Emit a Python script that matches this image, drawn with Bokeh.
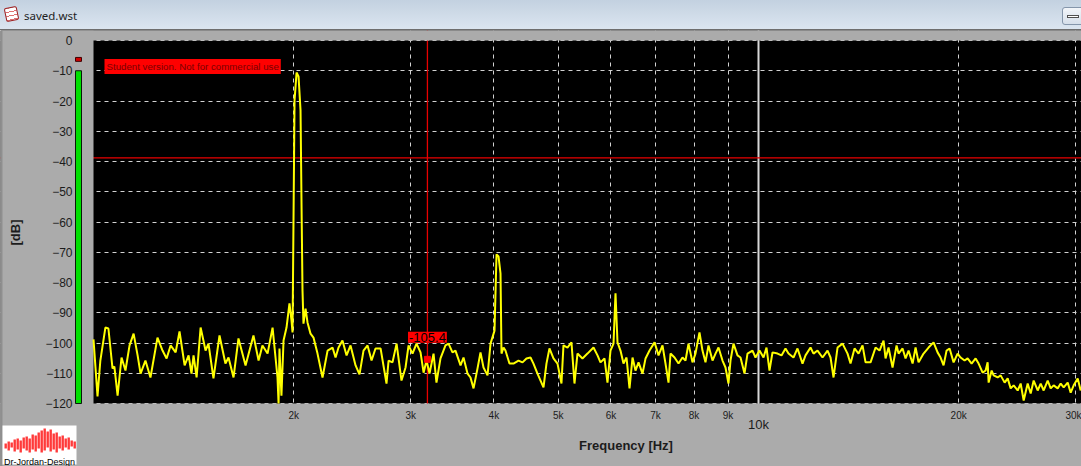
import math
from bokeh.plotting import figure
from bokeh.models import Range1d, FixedTicker, Span, Label, BoxAnnotation, Div
from bokeh.layouts import column
from bokeh.embed import file_html
from bokeh.resources import INLINE

# ---------------- data ----------------
freq_hz = [
    1000, 1014, 1024, 1042, 1053, 1068, 1075, 1087, 1102, 1117, 1133, 1149, 1165, 1177, 1197, 1218,
    1248, 1270, 1288, 1306, 1329, 1347, 1371, 1390, 1404, 1414, 1429, 1449, 1474, 1489, 1515, 1547,
    1579, 1596, 1624, 1652, 1693, 1740, 1771, 1795, 1827, 1859, 1891, 1898, 1904, 1917, 1931, 1951,
    1971, 1985, 1992, 2006, 2020, 2034, 2048, 2055, 2062, 2069, 2084, 2098, 2120, 2142, 2172, 2210,
    2249, 2288, 2312, 2336, 2368, 2402, 2435, 2478, 2512, 2547, 2583, 2619, 2655, 2702, 2758, 2778,
    2816, 2856, 2905, 2946, 2977, 3018, 3060, 3103, 3136, 3168, 3201, 3246, 3279, 3325, 3383, 3419,
    3466, 3502, 3564, 3601, 3651, 3689, 3728, 3780, 3819, 3859, 3913, 3954, 4009, 4037, 4065, 4093,
    4107, 4136, 4164, 4222, 4281, 4356, 4417, 4478, 4541, 4588, 4652, 4750, 4799, 4849, 4917, 4986,
    5055, 5090, 5161, 5233, 5288, 5343, 5436, 5531, 5648, 5727, 5786, 5867, 5928, 5990, 6053, 6095,
    6137, 6201, 6266, 6332, 6398, 6465, 6532, 6601, 6693, 6763, 6857, 6977, 7074, 7172, 7247, 7323,
    7374, 7477, 7581, 7686, 7767, 7848, 7957, 8040, 8152, 8237, 8323, 8410, 8528, 8617, 8707, 8828,
    8920, 9013, 9076, 9171, 9299, 9396, 9527, 9626, 9795, 9897, 10035, 10175, 10281, 10388, 10497, 10680,
    10829, 10980, 11095, 11288, 11446, 11646, 11768, 11973, 12098, 12267, 12482, 12700, 12833, 12967, 13148, 13377,
    13611, 13753, 13945, 14140, 14337, 14487, 14740, 14998, 15207, 15419, 15526, 15688, 15907, 16129, 16241, 16468,
    16640, 16814, 17049, 17227, 17407, 17711, 18020, 18335, 18591, 18785, 18981, 19180, 19380, 19651, 19925, 20133,
    20414, 20628, 20916, 21208, 21430, 21729, 21956, 22109, 22186, 22418, 22574, 22889, 23128, 23451, 23696, 23944,
    24194, 24532, 24788, 25047, 25397, 25662, 25930, 26292, 26567, 26844, 27219, 27503, 27790, 28178, 28473, 28770,
    29172, 29476, 29784, 30200, 30515,
]
level_db = [
    -98.8, -117.7, -105.8, -94.9, -95.2, -108.4, -107.8, -117.4, -104.8, -109.1, -100.8, -96.9, -104.1, -110.1, -105.8, -111.4,
    -98.2, -102.5, -105.1, -100.8, -103.1, -96.2, -107.4, -104.1, -110.1, -104.1, -111.4, -94.9, -102.5, -100.2, -111.7, -97.5,
    -106.8, -104.8, -111.4, -98.5, -107.4, -97.5, -105.8, -100.8, -103.5, -94.9, -111.4, -120.0, -101.8, -117.4, -99.2, -94.9,
    -86.9, -92.6, -96.5, -19.8, -10.6, -11.9, -23.1, -53.9, -82.6, -93.6, -88.6, -93.2, -96.9, -98.2, -103.5, -111.4,
    -102.5, -101.5, -104.8, -101.5, -99.2, -104.1, -100.8, -107.4, -110.4, -102.5, -100.8, -105.8, -101.8, -101.8, -113.4, -105.8,
    -106.4, -100.2, -112.4, -108.1, -100.8, -103.5, -100.2, -103.1, -109.8, -105.8, -110.1, -103.5, -113.1, -105.1, -100.8, -100.2,
    -103.1, -102.5, -107.4, -104.8, -110.1, -111.4, -115.0, -108.4, -103.1, -108.1, -110.7, -100.2, -95.9, -70.7, -71.4, -77.0,
    -103.5, -101.5, -102.5, -106.8, -106.8, -105.8, -106.4, -105.1, -104.8, -106.8, -110.1, -114.7, -106.8, -101.8, -105.1, -106.8,
    -113.4, -100.8, -101.5, -99.8, -113.4, -103.5, -105.1, -103.5, -101.5, -104.1, -106.4, -105.1, -113.1, -102.5, -100.2, -83.6,
    -99.8, -102.5, -106.8, -104.8, -115.0, -104.8, -109.1, -106.4, -110.1, -105.1, -102.5, -99.8, -104.1, -100.8, -106.8, -113.1,
    -103.5, -104.8, -106.8, -104.8, -105.8, -100.2, -106.4, -103.5, -96.5, -102.5, -106.4, -100.8, -105.8, -103.5, -101.5, -105.8,
    -108.1, -113.4, -105.8, -100.2, -104.1, -104.8, -110.1, -103.5, -102.5, -104.8, -102.5, -104.8, -101.5, -109.1, -103.1, -103.5,
    -104.1, -101.8, -103.5, -104.8, -101.8, -106.8, -104.1, -101.5, -103.5, -102.5, -104.8, -102.5, -104.8, -111.4, -101.5, -100.2,
    -103.5, -106.8, -101.8, -103.5, -100.8, -106.4, -106.4, -101.5, -102.5, -99.2, -105.1, -101.5, -108.1, -100.8, -103.5, -101.8,
    -105.1, -102.5, -106.8, -101.5, -106.4, -103.5, -101.5, -99.8, -103.1, -104.8, -107.4, -102.5, -101.8, -106.4, -103.5, -104.8,
    -105.8, -105.1, -106.8, -105.1, -106.8, -109.8, -109.1, -106.4, -113.1, -109.1, -110.7, -111.4, -110.7, -113.1, -111.7, -115.0,
    -114.0, -115.7, -113.4, -119.0, -113.4, -116.7, -112.4, -115.7, -113.4, -115.7, -112.4, -115.0, -114.0, -115.0, -113.4, -114.7,
    -113.1, -116.4, -114.0, -111.7, -115.7,
]

x_ticks = [2000, 3000, 4000, 5000, 6000, 7000, 8000, 9000, 10000, 20000, 30000]
x_tick_labels = ["2k", "3k", "4k", "5k", "6k", "7k", "8k", "9k", "", "20k", "30k"]
decade_tick = 10000
decade_label = "10k"
y_ticks = [0, -10, -20, -30, -40, -50, -60, -70, -80, -90, -100, -110, -120]

cursor_freq = 3178
cursor_db = -105.4
cursor_level = -38.8

meter_db = -10.0               # level meter bar top
peak_hold_db = (-6.9, -5.6)    # red peak-hold mark

F_LEFT, F_RIGHT = 1000.0, 30600.0
Y_BOTTOM, Y_TOP = -120, 0

# logo bars (decoration, px from the bottom of the canvas)
logo_bar_top = [23, 25, 24, 27, 28, 26, 29, 30, 28, 32, 31, 34, 36, 38, 35, 37, 33, 34, 30, 31, 28, 29, 26, 25]
logo_bar_bot = [18, 16, 19, 15, 17, 14, 18, 16, 14, 17, 15, 18, 14, 16, 19, 15, 17, 14, 18, 16, 19, 17, 20, 18]

# ---------------- geometry (page pixels) ----------------
W, TITLE_H = 1081, 30
H = 466 - TITLE_H
PAGE_Y0 = TITLE_H               # canvas top on the page
PAGE_Y1 = PAGE_Y0 + H           # canvas bottom
METER_PX = 75                   # page x of level meter / y-axis line
PLOT_LEFT_PX, PLOT_RIGHT_PX = 93, 1081
PLOT_TOP_PX, PLOT_BOTTOM_PX = 40, 403

ppd = (PLOT_RIGHT_PX - PLOT_LEFT_PX) / math.log10(F_RIGHT / F_LEFT)
x_lo = F_LEFT * 10 ** (-PLOT_LEFT_PX / ppd)
meter_left = F_LEFT * 10 ** (-(PLOT_LEFT_PX - METER_PX) / ppd)
meter_right = F_LEFT * 10 ** (-(PLOT_LEFT_PX - METER_PX - 6) / ppd)
ppdb = (PLOT_BOTTOM_PX - PLOT_TOP_PX) / (Y_TOP - Y_BOTTOM)
y_lo = Y_BOTTOM - (PAGE_Y1 - PLOT_BOTTOM_PX) / ppdb
y_hi = Y_TOP + (PLOT_TOP_PX - PAGE_Y0) / ppdb

BG_GRAY = "#ababab"
FONT = "Liberation Sans"
TXT = "#1c1c1c"
CURSOR_RED = "#e80000"

title_bar = Div(
    text='<div style="position:relative;width:1081px;height:29px;overflow:hidden">'
         '<span style="position:absolute;left:5px;top:7px;width:13px;height:14px;border:1px solid #a02020;'
         'border-radius:2px;transform:rotate(-12deg);'
         'background:repeating-linear-gradient(#ffffff 0 3px,#e07070 3px 4px)"></span>'
         '<span style="position:absolute;left:24px;top:0;line-height:31px">saved.wst</span>'
         '<span style="position:absolute;left:1062px;top:7px;width:26px;height:18px;border:1px solid #8596ab;'
         'border-radius:3px;background:linear-gradient(#f2f5f9,#d6dfea);box-sizing:border-box"></span>'
         '<span style="position:absolute;left:1067px;top:15px;width:12px;height:3px;border:1px solid #505050;'
         'background:#ffffff"></span></div>',
    width=W, height=TITLE_H, margin=0,
    styles={"background": "linear-gradient(#c3d1e0, #dbe5f0)", "font-family": "Noto Sans",
            "font-size": "11.5px", "color": "#1e1e1e",
            "box-sizing": "border-box", "border-bottom": "1px solid #6e6e6e"},
)

# ---------------- figure (frame = whole canvas, axes at fixed locations) ----------------
p = figure(width=W, height=H, x_axis_type="log",
           x_range=Range1d(x_lo, F_RIGHT), y_range=Range1d(y_lo, y_hi),
           output_backend="svg", toolbar_location=None, min_border=0)
p.background_fill_color = "black"
p.border_fill_color = BG_GRAY
p.outline_line_color = None

p.xaxis.ticker = FixedTicker(ticks=x_ticks)
p.xaxis.major_label_overrides = dict(zip(x_ticks, x_tick_labels))
p.xaxis.fixed_location = Y_BOTTOM
p.xaxis.bounds = (F_LEFT, F_RIGHT)
p.yaxis.ticker = FixedTicker(ticks=y_ticks)
p.yaxis.fixed_location = meter_left
p.yaxis.bounds = (Y_BOTTOM, Y_TOP)
for ax in (p.xaxis, p.yaxis):
    ax.axis_line_color = None
    ax.major_tick_line_color = None
    ax.minor_tick_line_color = None
    ax.major_tick_out = 0
    ax.major_tick_in = 0
    ax.minor_tick_out = 0
    ax.major_label_text_font = FONT
    ax.major_label_text_color = TXT
p.xaxis.major_label_text_font_size = "10px"
p.xaxis.major_label_standoff = 6
p.yaxis.major_label_text_font_size = "12px"
p.yaxis.major_label_standoff = 3

p.xgrid.ticker = FixedTicker(ticks=x_ticks)
p.ygrid.ticker = FixedTicker(ticks=y_ticks)
p.grid.grid_line_color = "#d2d2d2"
p.grid.grid_line_dash = "4 4"
p.grid.grid_line_width = 1

# reference lines (underlay, so the gray surround hides their ends)
p.add_layout(Span(location=decade_tick, dimension="height", line_color="#d8d8d8", line_width=2, level="underlay"))
p.add_layout(Span(location=cursor_level, dimension="width", line_color=CURSOR_RED, line_width=1.3, level="underlay"))
p.add_layout(Span(location=cursor_freq, dimension="height", line_color=CURSOR_RED, line_width=1.3, level="underlay"))

# gray surround of the black plot area
p.quad(left=[x_lo, x_lo, x_lo], right=[F_LEFT, F_RIGHT, F_RIGHT],
       bottom=[y_lo, y_lo, Y_TOP], top=[y_hi, Y_BOTTOM, y_hi],
       fill_color=BG_GRAY, line_color=None)

# level meter
p.quad(left=[meter_left], right=[meter_right], bottom=[Y_BOTTOM], top=[meter_db],
       fill_color="#00e000", line_color="#0a1a0a", line_width=1)
p.quad(left=[meter_left], right=[meter_right], bottom=[peak_hold_db[0]], top=[peak_hold_db[1]],
       fill_color="#d00000", line_color="#400000", line_width=1)

# trace
p.line(freq_hz, level_db, line_color="#ffff00", line_width=2)

# cursor marker + readout
p.scatter([cursor_freq], [cursor_db], marker="square", size=6, fill_color="#ff0000", line_color="#ff0000")
p.add_layout(Label(x=cursor_freq, y=cursor_db, text=f"{cursor_db:.1f}", y_offset=22,
                   text_align="center", text_baseline="middle", text_font=FONT, text_font_size="13px",
                   text_color="#000000", background_fill_color="#ff0000", padding=1))

# window edge
p.add_layout(BoxAnnotation(left=0, right=2, bottom=0, top=H,
                           left_units="screen", right_units="screen", bottom_units="screen", top_units="screen",
                           fill_color="#8f8f8f", fill_alpha=1, line_color=None))

# student banner
p.add_layout(Label(x=104, y=PAGE_Y1 - 66, x_units="screen", y_units="screen",
                   text="Student version. Not for commercial use",
                   text_align="left", text_baseline="middle", text_font=FONT, text_font_size="9.7px",
                   text_color="#7a0000", background_fill_color="#ff0000", padding=2))

# axis titles and the big decade label
p.add_layout(Label(x=15, y=PAGE_Y1 - 232, x_units="screen", y_units="screen", text="[dB]",
                   angle=math.pi / 2, text_align="center", text_baseline="middle", text_font=FONT,
                   text_font_size="13px", text_font_style="bold", text_color=TXT))
p.add_layout(Label(x=decade_tick, y=PAGE_Y1 - 424, y_units="screen", text=decade_label, text_align="center",
                   text_baseline="middle", text_font=FONT, text_font_size="13px", text_color=TXT))
p.add_layout(Label(x=625.5, y=PAGE_Y1 - 445, x_units="screen", y_units="screen",
                   text="Frequency [Hz]", text_align="center", text_baseline="alphabetic", text_font=FONT,
                   text_font_size="13px", text_font_style="bold", text_color=TXT))

# logo (bottom-left)
logo_l, logo_r, logo_b, logo_t = 2, 76, PAGE_Y1 - 464, PAGE_Y1 - 425
p.add_layout(BoxAnnotation(left=logo_l, right=logo_r, bottom=logo_b, top=logo_t,
                           left_units="screen", right_units="screen", bottom_units="screen", top_units="screen",
                           fill_color="white", fill_alpha=1, line_color=None))
bar_w = 3
for i, (bt, bb) in enumerate(zip(logo_bar_top, logo_bar_bot)):
    lft = logo_l + 2 + i * bar_w
    p.add_layout(BoxAnnotation(left=lft, right=lft + bar_w - 0.6, bottom=bb, top=bt,
                               left_units="screen", right_units="screen", bottom_units="screen", top_units="screen",
                               fill_color="#ff3a3a", fill_alpha=1, line_color=None))
p.add_layout(Label(x=(logo_l + logo_r) / 2, y=PAGE_Y1 - 461, x_units="screen", y_units="screen",
                   text="Dr-Jordan-Design", text_align="center", text_baseline="alphabetic",
                   text_font=FONT, text_font_size="9px", text_color="black"))

layout = column(title_bar, p, spacing=0)
open("out.html", "w").write(file_html(layout, INLINE))
